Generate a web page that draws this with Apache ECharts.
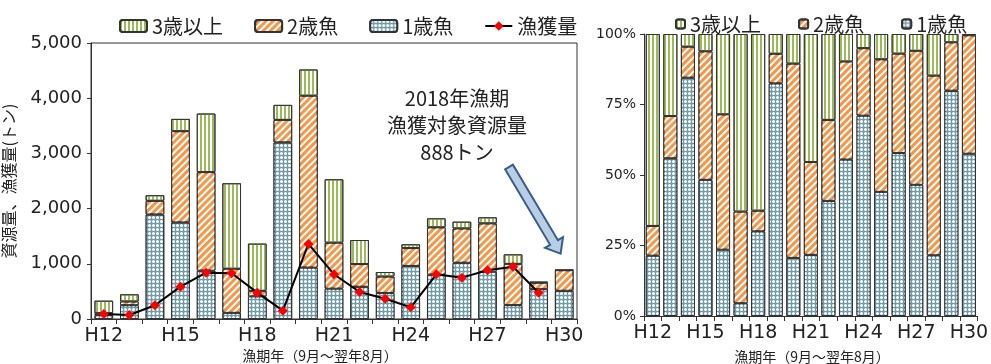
<!DOCTYPE html>
<html><head><meta charset="utf-8">
<script src="https://cdn.jsdelivr.net/npm/echarts@6/dist/echarts.min.js"></script>
<style>html,body{margin:0;padding:0;background:#fff}#c{width:991px;height:364px}</style>
</head><body><div id="c"></div>
<script>
const categories = ['H12','H13','H14','H15','H16','H17','H18','H19','H20','H21','H22','H23','H24','H25','H26','H27','H28','H29','H30'];
const age1 = [71, 250, 1894, 1750, 875, 111, 410, 3200, 931, 549, 584, 472, 961, 803, 1019, 857, 252, 540, 511];
const age2 = [35, 67, 247, 1652, 1786, 799, 100, 407, 3114, 833, 411, 296, 324, 857, 621, 875, 746, 116, 373];
const age3 = [226, 130, 101, 223, 1061, 1549, 856, 272, 475, 1149, 436, 83, 68, 164, 123, 110, 173, 20, 4];
const catchT = [91, 73, 248, 586, 840, 828, 477, 151, 1360, 810, 489, 368, 212, 810, 749, 882, 947, 476, null];
const yTicksLeft = [0, 1000, 2000, 3000, 4000, 5000];

const totals = categories.map((_, i) => age1[i] + age2[i] + age3[i]);
const pct = arr => arr.map((v, i) => v / totals[i] * 100);

const FONT = '"Noto Sans CJK JP", "Noto Sans", sans-serif';
const NUMFONT = '"DejaVu Sans", sans-serif';
const greenStyle = {color:'#ffffff', borderColor:'#333', borderWidth:1,
  decal:{symbol:'rect', symbolSize:1, color:'#9bbb59', dashArrayX:[2,2], dashArrayY:[1,0], rotation:0}};
const orangeStyle = {color:'#f79646', borderColor:'#333', borderWidth:1,
  decal:{symbol:'rect', symbolSize:1, color:'#ffffff', dashArrayX:[2,3], dashArrayY:[1,0], rotation:Math.PI/4}};
const blueStyle = {color:'#6f9ca8', borderColor:'#333', borderWidth:1,
  decal:{symbol:'circle', symbolSize:1, color:'#ffffff', dashArrayX:[3,1], dashArrayY:[3,1], rotation:0}};

const chart = echarts.init(document.getElementById('c'), null, {renderer:'canvas'});
chart.setOption({
  animation:false,
  textStyle:{fontFamily:FONT},
  legend:[
    {left:114, top:11, itemWidth:27, itemHeight:12, itemGap:31,
     textStyle:{fontSize:20, color:'#222', fontFamily:FONT},
     data:['3歳以上','2歳魚','1歳魚','漁獲量']},
    {left:670, top:9, itemWidth:9, itemHeight:9, itemGap:37,
     textStyle:{fontSize:20, color:'#222', fontFamily:FONT},
     data:['3歳以上','2歳魚','1歳魚']}
  ],
  grid:[
    {left:91, right:414, top:43, bottom:45, show:true, borderColor:'#333', borderWidth:1, backgroundColor:'transparent'},
    {left:644, right:7, top:34, bottom:48}
  ],
  xAxis:[
    {type:'category', gridIndex:0, data:categories,
     axisLine:{lineStyle:{color:'#333', width:1}},
     axisTick:{show:true, interval:0, length:5, lineStyle:{color:'#333'}},
     axisLabel:{interval:2, fontSize:19, color:'#222', margin:8, fontFamily:NUMFONT}},
    {type:'category', gridIndex:1, data:categories,
     axisLine:{lineStyle:{color:'#333', width:1}},
     axisTick:{show:true, interval:0, length:5, lineStyle:{color:'#333'}},
     axisLabel:{interval:2, fontSize:19, color:'#222', margin:8, fontFamily:NUMFONT}}
  ],
  yAxis:[
    {type:'value', gridIndex:0, min:yTicksLeft[0], max:yTicksLeft[yTicksLeft.length-1], interval:1000,
     name:'資源量、漁獲量(トン)', nameLocation:'middle', nameGap:74, nameRotate:90,
     nameTextStyle:{fontSize:16, color:'#222', fontFamily:FONT},
     axisLine:{show:true, lineStyle:{color:'#333'}},
     axisTick:{show:true, length:4, lineStyle:{color:'#333'}},
     splitLine:{show:false},
     axisLabel:{fontSize:18, color:'#222', margin:9, fontFamily:NUMFONT,
       formatter:v => v.toLocaleString('en-US')}},
    {type:'value', gridIndex:1, min:0, max:100, interval:25,
     axisLine:{show:true, lineStyle:{color:'#333'}},
     axisTick:{show:true, length:4, lineStyle:{color:'#333'}},
     splitLine:{show:false},
     axisLabel:{fontSize:14, color:'#222', margin:8, fontFamily:NUMFONT,
       formatter:v => v + '%'}}
  ],
  series:[
    {name:'1歳魚', type:'bar', stack:'a', xAxisIndex:0, yAxisIndex:0, data:age1, barCategoryGap:'27%', itemStyle:blueStyle},
    {name:'2歳魚', type:'bar', stack:'a', xAxisIndex:0, yAxisIndex:0, data:age2, itemStyle:orangeStyle},
    {name:'3歳以上', type:'bar', stack:'a', xAxisIndex:0, yAxisIndex:0, data:age3, itemStyle:greenStyle},
    {name:'漁獲量', type:'line', xAxisIndex:0, yAxisIndex:0, data:catchT, z:10,
     symbol:'diamond', symbolSize:10, lineStyle:{color:'#000', width:2},
     itemStyle:{color:'#ff0000', borderWidth:0}},
    {name:'1歳魚', type:'bar', stack:'b', xAxisIndex:1, yAxisIndex:1, data:pct(age1), barCategoryGap:'20%', itemStyle:blueStyle},
    {name:'2歳魚', type:'bar', stack:'b', xAxisIndex:1, yAxisIndex:1, data:pct(age2), itemStyle:orangeStyle},
    {name:'3歳以上', type:'bar', stack:'b', xAxisIndex:1, yAxisIndex:1, data:pct(age3), itemStyle:greenStyle}
  ],
  graphic:[
    {type:'text', x:457, y:85, style:{text:'2018年漁期\n漁獲対象資源量\n888トン', textAlign:'center', lineHeight:27, fill:'#222', font:'20px ' + FONT}},
    {type:'polygon', shape:{points:[[505.1,169.3],[550.1,244.8],[545.0,247.9],[560.6,253.7],[563.0,237.1],[557.9,240.2],[512.9,164.7]]},
     style:{fill:'#b9cde5', stroke:'#385d8a', lineWidth:2}},
    {type:'text', x:320, y:349, style:{text:'漁期年（9月～翌年8月）', textAlign:'center', font:'14px ' + FONT, fill:'#222'}},
    {type:'text', x:812, y:350, style:{text:'漁期年（9月～翌年8月）', textAlign:'center', font:'14px ' + FONT, fill:'#222'}}
  ]
});
</script></body></html>
